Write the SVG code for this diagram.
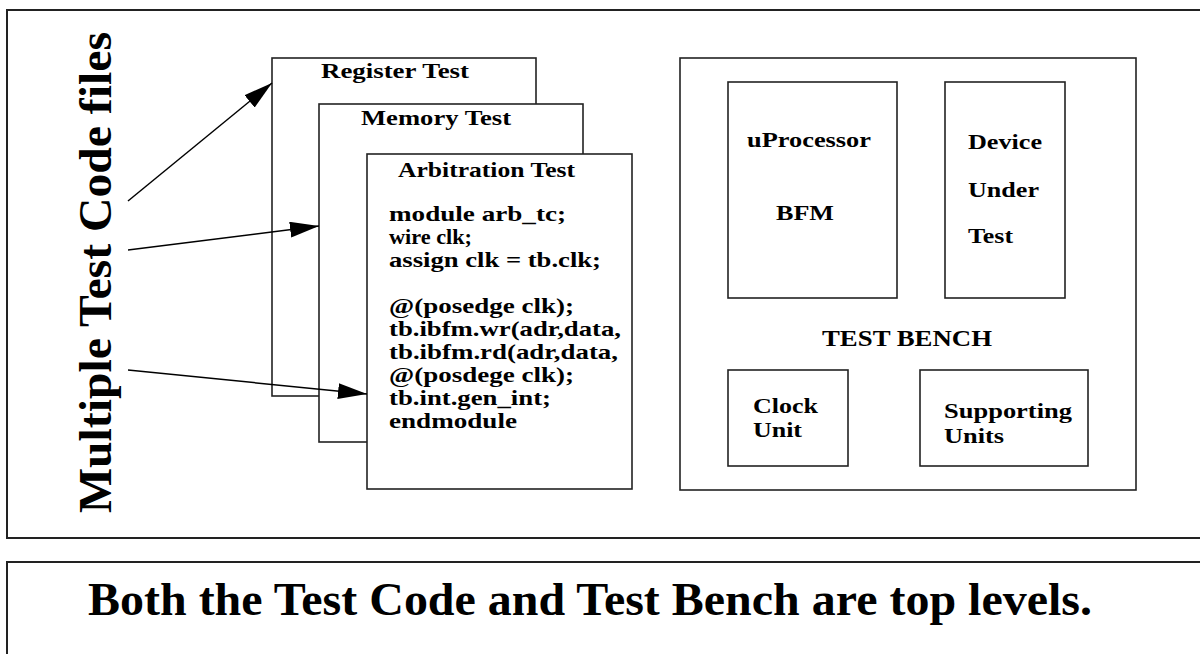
<svg xmlns="http://www.w3.org/2000/svg" width="1200" height="654" viewBox="0 0 1200 654">
<defs>
<style>
.frame{fill:none;stroke:#222;stroke-width:2}
.box{fill:#fff;stroke:#222;stroke-width:1.6}
.t{font-family:"Liberation Serif","Times New Roman",serif;font-weight:bold;fill:#000}
.s{font-size:22px}
.conn{fill:none;stroke:#000;stroke-width:1.5}
</style>
<marker id="ah" viewBox="0 0 29 16" refX="29" refY="8" markerWidth="29" markerHeight="16" markerUnits="userSpaceOnUse" orient="auto">
<path d="M0,0 L29,8 L0,16 z" fill="#000"/>
</marker>
</defs>
<rect width="1200" height="654" fill="#fff"/>
<g id="top-panel">
<rect class="frame" x="7" y="10" width="1200" height="528"/>
</g>
<g id="bottom-panel">
<rect class="frame" x="7" y="562" width="1200" height="100"/>
<text class="t" x="88" y="615" font-size="47" textLength="1004" lengthAdjust="spacingAndGlyphs">Both the Test Code and Test Bench are top levels.</text>
</g>
<g id="label-multiple">
<text class="t" x="111" y="513" font-size="47" textLength="481" lengthAdjust="spacingAndGlyphs" transform="rotate(-90 111 513)">Multiple Test Code files</text>
</g>
<g id="register-test">
<rect class="box" x="272" y="58" width="264" height="338"/>
<text class="t s" x="321" y="78" textLength="148" lengthAdjust="spacingAndGlyphs">Register Test</text>
</g>
<g id="memory-test">
<rect class="box" x="319" y="104" width="264" height="338"/>
<text class="t s" x="361" y="125" textLength="150" lengthAdjust="spacingAndGlyphs">Memory Test</text>
</g>
<g id="arbitration-test">
<rect class="box" x="367" y="154" width="265" height="335"/>
<text class="t s" x="398" y="177" textLength="177" lengthAdjust="spacingAndGlyphs">Arbitration Test</text>
<text class="t s" x="389" y="221" textLength="177" lengthAdjust="spacingAndGlyphs">module arb_tc;</text>
<text class="t s" x="389" y="244" textLength="83" lengthAdjust="spacingAndGlyphs">wire clk;</text>
<text class="t s" x="389" y="267" textLength="212" lengthAdjust="spacingAndGlyphs">assign clk = tb.clk;</text>
<text class="t s" x="389" y="313" textLength="185" lengthAdjust="spacingAndGlyphs">@(posedge clk);</text>
<text class="t s" x="389" y="336" textLength="232" lengthAdjust="spacingAndGlyphs">tb.ibfm.wr(adr,data,</text>
<text class="t s" x="389" y="359" textLength="229" lengthAdjust="spacingAndGlyphs">tb.ibfm.rd(adr,data,</text>
<text class="t s" x="389" y="382" textLength="185" lengthAdjust="spacingAndGlyphs">@(posdege clk);</text>
<text class="t s" x="389" y="405" textLength="162" lengthAdjust="spacingAndGlyphs">tb.int.gen_int;</text>
<text class="t s" x="389" y="428" textLength="128" lengthAdjust="spacingAndGlyphs">endmodule</text>
</g>
<g id="test-bench">
<rect class="box" x="680" y="58" width="456" height="432"/>
<text class="t" x="822" y="346" font-size="24" textLength="170" lengthAdjust="spacingAndGlyphs">TEST BENCH</text>
</g>
<g id="uprocessor-bfm">
<rect class="box" x="728" y="82" width="169" height="216"/>
<text class="t s" x="747" y="147" textLength="124" lengthAdjust="spacingAndGlyphs">uProcessor</text>
<text class="t s" x="776" y="220" textLength="58" lengthAdjust="spacingAndGlyphs">BFM</text>
</g>
<g id="device-under-test">
<rect class="box" x="945" y="82" width="120" height="216"/>
<text class="t s" x="968" y="149" textLength="74" lengthAdjust="spacingAndGlyphs">Device</text>
<text class="t s" x="968" y="197" textLength="71" lengthAdjust="spacingAndGlyphs">Under</text>
<text class="t s" x="968" y="243" textLength="45" lengthAdjust="spacingAndGlyphs">Test</text>
</g>
<g id="clock-unit">
<rect class="box" x="728" y="370" width="120" height="96"/>
<text class="t s" x="753" y="413" textLength="65" lengthAdjust="spacingAndGlyphs">Clock</text>
<text class="t s" x="753" y="437" textLength="49" lengthAdjust="spacingAndGlyphs">Unit</text>
</g>
<g id="supporting-units">
<rect class="box" x="920" y="370" width="168" height="96"/>
<text class="t s" x="944" y="418" textLength="128" lengthAdjust="spacingAndGlyphs">Supporting</text>
<text class="t s" x="944" y="443" textLength="60" lengthAdjust="spacingAndGlyphs">Units</text>
</g>
<g id="connectors">
<line class="conn" x1="128" y1="201" x2="272" y2="83" marker-end="url(#ah)"/>
<line class="conn" x1="128" y1="250" x2="319" y2="226" marker-end="url(#ah)"/>
<line class="conn" x1="128" y1="370" x2="367" y2="394" marker-end="url(#ah)"/>
</g>
</svg>
